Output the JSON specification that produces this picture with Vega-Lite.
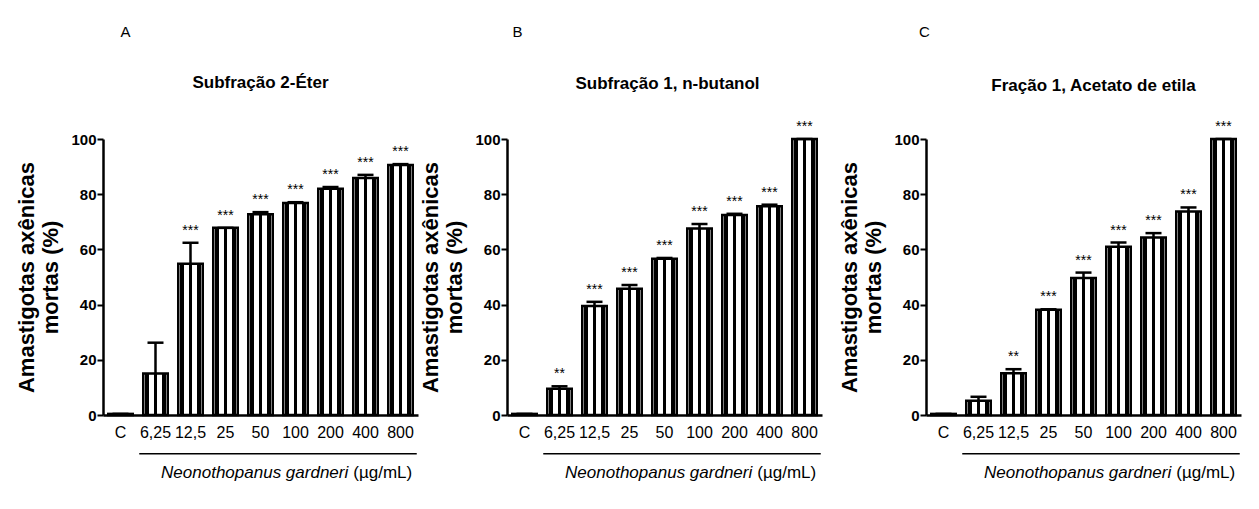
{
  "$schema": "https://vega.github.io/schema/vega-lite/v6.json",
  "background": "white",
  "padding": {"left": 15, "top": 24, "right": 5, "bottom": 5},
  "config": {
    "font": "Liberation Sans",
    "view": {"stroke": null},
    "axis": {"grid": false, "domainColor": "black", "tickColor": "black", "labelColor": "black", "titleColor": "black"},
    "axisX": {"title": null, "labelAngle": 0, "ticks": false, "domainWidth": 2.5, "labelFont": "Liberation Sans", "labelFontSize": 16, "labelPadding": 9},
    "axisY": {"values": [0, 20, 40, 60, 80, 100], "titleFontSize": 22, "titleFontWeight": "bold", "titlePadding": 8,
              "domainWidth": 2.5, "tickWidth": 2, "tickSize": 6, "labelFont": "Liberation Sans", "labelFontSize": 15, "labelFontWeight": "bold", "labelPadding": 1}
  },
  "data": {"values": [
    {"panel": "A", "dose": "C", "mean": 0.4, "hi": 0.4, "sig": ""},
    {"panel": "A", "dose": "6,25", "mean": 15.0, "hi": 26.2, "sig": ""},
    {"panel": "A", "dose": "12,5", "mean": 54.8, "hi": 62.4, "sig": "***"},
    {"panel": "A", "dose": "25", "mean": 67.8, "hi": 67.8, "sig": "***"},
    {"panel": "A", "dose": "50", "mean": 72.7, "hi": 73.5, "sig": "***"},
    {"panel": "A", "dose": "100", "mean": 76.8, "hi": 77.1, "sig": "***"},
    {"panel": "A", "dose": "200", "mean": 82.0, "hi": 82.6, "sig": "***"},
    {"panel": "A", "dose": "400", "mean": 85.9, "hi": 87.0, "sig": "***"},
    {"panel": "A", "dose": "800", "mean": 90.6, "hi": 90.9, "sig": "***"},
    {"panel": "B", "dose": "C", "mean": 0.4, "hi": 0.4, "sig": ""},
    {"panel": "B", "dose": "6,25", "mean": 9.5, "hi": 10.4, "sig": "**"},
    {"panel": "B", "dose": "12,5", "mean": 39.5, "hi": 41.0, "sig": "***"},
    {"panel": "B", "dose": "25", "mean": 45.7, "hi": 47.1, "sig": "***"},
    {"panel": "B", "dose": "50", "mean": 56.6, "hi": 56.9, "sig": "***"},
    {"panel": "B", "dose": "100", "mean": 67.6, "hi": 69.2, "sig": "***"},
    {"panel": "B", "dose": "200", "mean": 72.5, "hi": 72.9, "sig": "***"},
    {"panel": "B", "dose": "400", "mean": 75.6, "hi": 76.2, "sig": "***"},
    {"panel": "B", "dose": "800", "mean": 100.0, "hi": 100.0, "sig": "***"},
    {"panel": "C", "dose": "C", "mean": 0.4, "hi": 0.4, "sig": ""},
    {"panel": "C", "dose": "6,25", "mean": 5.2, "hi": 6.6, "sig": ""},
    {"panel": "C", "dose": "12,5", "mean": 15.1, "hi": 16.6, "sig": "**"},
    {"panel": "C", "dose": "25", "mean": 38.1, "hi": 38.3, "sig": "***"},
    {"panel": "C", "dose": "50", "mean": 49.6, "hi": 51.6, "sig": "***"},
    {"panel": "C", "dose": "100", "mean": 61.0, "hi": 62.5, "sig": "***"},
    {"panel": "C", "dose": "200", "mean": 64.3, "hi": 65.9, "sig": "***"},
    {"panel": "C", "dose": "400", "mean": 73.7, "hi": 75.2, "sig": "***"},
    {"panel": "C", "dose": "800", "mean": 100.0, "hi": 100.0, "sig": "***"}
  ]},
  "bounds": "flush",
  "spacing": 89,
  "hconcat": [
    {
      "width": 315, "height": 276,
      "transform": [{"filter": "datum.panel == 'A'"}],
      "encoding": {
        "x": {"field": "dose", "type": "nominal", "sort": ["C", "6,25", "12,5", "25", "50", "100", "200", "400", "800"],
              "scale": {"paddingInner": 0.3, "paddingOuter": 0.15}}
      },
      "layer": [
        {"mark": {"type": "bar", "stroke": "black", "strokeWidth": 2.5,
                  "fill": {"gradient": "linear", "x1": 0, "y1": 0, "x2": 1, "y2": 0, "stops": [
                    {"offset": 0, "color": "white"}, {"offset": 0.06, "color": "white"}, {"offset": 0.06, "color": "black"}, {"offset": 0.22, "color": "black"}, {"offset": 0.22, "color": "white"},
                    {"offset": 0.42, "color": "white"}, {"offset": 0.42, "color": "black"}, {"offset": 0.58, "color": "black"}, {"offset": 0.58, "color": "white"},
                    {"offset": 0.78, "color": "white"}, {"offset": 0.78, "color": "black"}, {"offset": 0.94, "color": "black"}, {"offset": 0.94, "color": "white"}, {"offset": 1, "color": "white"}]}},
         "encoding": {"y": {"field": "mean", "type": "quantitative", "scale": {"domain": [0, 100], "nice": false},
                            "axis": {"title": ["Amastigotas axênicas", "mortas (%)"]}}}},
        {"mark": {"type": "rule", "strokeWidth": 2.5, "color": "black"},
         "encoding": {"y": {"field": "mean", "type": "quantitative"}, "y2": {"field": "hi"}}},
        {"mark": {"type": "tick", "thickness": 2.5, "size": 16, "color": "black", "opacity": 1},
         "encoding": {"y": {"field": "hi", "type": "quantitative"}}},
        {"mark": {"type": "text", "fontSize": 14, "baseline": "alphabetic", "dy": -8, "color": "black"},
         "encoding": {"y": {"field": "hi", "type": "quantitative"}, "text": {"field": "sig"}}},
        {"data": {"values": [{}]},
         "mark": {"type": "rule", "strokeWidth": 1.5, "color": "black", "xOffset": -4, "x2Offset": 4},
         "encoding": {"x": {"datum": "6,25", "bandPosition": 0}, "x2": {"datum": "800", "bandPosition": 1}, "y": {"datum": -14}}},
        {"data": {"values": [{}]},
         "mark": {"type": "text", "fontSize": 17, "fontStyle": "italic", "align": "right", "baseline": "alphabetic", "dx": -5, "color": "black"},
         "encoding": {"x": {"datum": "400", "bandPosition": 0}, "y": {"datum": -23}, "text": {"value": "Neonothopanus gardneri"}}},
        {"data": {"values": [{}]},
         "mark": {"type": "text", "fontSize": 17, "align": "left", "baseline": "alphabetic", "color": "black"},
         "encoding": {"x": {"datum": "400", "bandPosition": 0}, "y": {"datum": -23}, "text": {"value": "(µg/mL)"}}},
        {"data": {"values": [{}]},
         "mark": {"type": "text", "fontSize": 17, "fontWeight": "bold", "align": "center", "baseline": "alphabetic", "color": "black"},
         "encoding": {"x": {"datum": "50"}, "y": {"datum": 118.5}, "text": {"value": "Subfração 2-Éter"}}},
        {"data": {"values": [{}]},
         "mark": {"type": "text", "fontSize": 15, "align": "center", "baseline": "alphabetic", "dx": 5, "color": "black"},
         "encoding": {"x": {"datum": "C"}, "y": {"datum": 137}, "text": {"value": "A"}}}
      ]
    },
    {
      "bounds": "flush",
      "spacing": 104,
      "hconcat": [
        {
          "width": 315, "height": 276,
          "transform": [{"filter": "datum.panel == 'B'"}],
          "encoding": {
            "x": {"field": "dose", "type": "nominal", "sort": ["C", "6,25", "12,5", "25", "50", "100", "200", "400", "800"],
                  "scale": {"paddingInner": 0.3, "paddingOuter": 0.15}}
          },
          "layer": [
            {"mark": {"type": "bar", "stroke": "black", "strokeWidth": 2.5,
                      "fill": {"gradient": "linear", "x1": 0, "y1": 0, "x2": 1, "y2": 0, "stops": [
                        {"offset": 0, "color": "white"}, {"offset": 0.06, "color": "white"}, {"offset": 0.06, "color": "black"}, {"offset": 0.22, "color": "black"}, {"offset": 0.22, "color": "white"},
                        {"offset": 0.42, "color": "white"}, {"offset": 0.42, "color": "black"}, {"offset": 0.58, "color": "black"}, {"offset": 0.58, "color": "white"},
                        {"offset": 0.78, "color": "white"}, {"offset": 0.78, "color": "black"}, {"offset": 0.94, "color": "black"}, {"offset": 0.94, "color": "white"}, {"offset": 1, "color": "white"}]}},
             "encoding": {"y": {"field": "mean", "type": "quantitative", "scale": {"domain": [0, 100], "nice": false},
                                "axis": {"title": ["Amastigotas axênicas", "mortas (%)"]}}}},
            {"mark": {"type": "rule", "strokeWidth": 2.5, "color": "black"},
             "encoding": {"y": {"field": "mean", "type": "quantitative"}, "y2": {"field": "hi"}}},
            {"mark": {"type": "tick", "thickness": 2.5, "size": 16, "color": "black", "opacity": 1},
             "encoding": {"y": {"field": "hi", "type": "quantitative"}}},
            {"mark": {"type": "text", "fontSize": 14, "baseline": "alphabetic", "dy": -8, "color": "black"},
             "encoding": {"y": {"field": "hi", "type": "quantitative"}, "text": {"field": "sig"}}},
            {"data": {"values": [{}]},
             "mark": {"type": "rule", "strokeWidth": 1.5, "color": "black", "xOffset": -4, "x2Offset": 4},
             "encoding": {"x": {"datum": "6,25", "bandPosition": 0}, "x2": {"datum": "800", "bandPosition": 1}, "y": {"datum": -14}}},
            {"data": {"values": [{}]},
             "mark": {"type": "text", "fontSize": 17, "fontStyle": "italic", "align": "right", "baseline": "alphabetic", "dx": -5, "color": "black"},
             "encoding": {"x": {"datum": "400", "bandPosition": 0}, "y": {"datum": -23}, "text": {"value": "Neonothopanus gardneri"}}},
            {"data": {"values": [{}]},
             "mark": {"type": "text", "fontSize": 17, "align": "left", "baseline": "alphabetic", "color": "black"},
             "encoding": {"x": {"datum": "400", "bandPosition": 0}, "y": {"datum": -23}, "text": {"value": "(µg/mL)"}}},
            {"data": {"values": [{}]},
             "mark": {"type": "text", "fontSize": 17, "fontWeight": "bold", "align": "center", "baseline": "alphabetic", "dx": 3, "color": "black"},
             "encoding": {"x": {"datum": "50"}, "y": {"datum": 118}, "text": {"value": "Subfração 1, n-butanol"}}},
            {"data": {"values": [{}]},
             "mark": {"type": "text", "fontSize": 15, "align": "center", "baseline": "alphabetic", "dx": -7, "color": "black"},
             "encoding": {"x": {"datum": "C"}, "y": {"datum": 137}, "text": {"value": "B"}}}
          ]
        },
        {
          "width": 315, "height": 276,
          "transform": [{"filter": "datum.panel == 'C'"}],
          "encoding": {
            "x": {"field": "dose", "type": "nominal", "sort": ["C", "6,25", "12,5", "25", "50", "100", "200", "400", "800"],
                  "scale": {"paddingInner": 0.3, "paddingOuter": 0.15}}
          },
          "layer": [
            {"mark": {"type": "bar", "stroke": "black", "strokeWidth": 2.5,
                      "fill": {"gradient": "linear", "x1": 0, "y1": 0, "x2": 1, "y2": 0, "stops": [
                        {"offset": 0, "color": "white"}, {"offset": 0.06, "color": "white"}, {"offset": 0.06, "color": "black"}, {"offset": 0.22, "color": "black"}, {"offset": 0.22, "color": "white"},
                        {"offset": 0.42, "color": "white"}, {"offset": 0.42, "color": "black"}, {"offset": 0.58, "color": "black"}, {"offset": 0.58, "color": "white"},
                        {"offset": 0.78, "color": "white"}, {"offset": 0.78, "color": "black"}, {"offset": 0.94, "color": "black"}, {"offset": 0.94, "color": "white"}, {"offset": 1, "color": "white"}]}},
             "encoding": {"y": {"field": "mean", "type": "quantitative", "scale": {"domain": [0, 100], "nice": false},
                                "axis": {"title": ["Amastigotas axênicas", "mortas (%)"]}}}},
            {"mark": {"type": "rule", "strokeWidth": 2.5, "color": "black"},
             "encoding": {"y": {"field": "mean", "type": "quantitative"}, "y2": {"field": "hi"}}},
            {"mark": {"type": "tick", "thickness": 2.5, "size": 16, "color": "black", "opacity": 1},
             "encoding": {"y": {"field": "hi", "type": "quantitative"}}},
            {"mark": {"type": "text", "fontSize": 14, "baseline": "alphabetic", "dy": -8, "color": "black"},
             "encoding": {"y": {"field": "hi", "type": "quantitative"}, "text": {"field": "sig"}}},
            {"data": {"values": [{}]},
             "mark": {"type": "rule", "strokeWidth": 1.5, "color": "black", "xOffset": -4, "x2Offset": 4},
             "encoding": {"x": {"datum": "6,25", "bandPosition": 0}, "x2": {"datum": "800", "bandPosition": 1}, "y": {"datum": -14}}},
            {"data": {"values": [{}]},
             "mark": {"type": "text", "fontSize": 17, "fontStyle": "italic", "align": "right", "baseline": "alphabetic", "dx": -5, "color": "black"},
             "encoding": {"x": {"datum": "400", "bandPosition": 0}, "y": {"datum": -23}, "text": {"value": "Neonothopanus gardneri"}}},
            {"data": {"values": [{}]},
             "mark": {"type": "text", "fontSize": 17, "align": "left", "baseline": "alphabetic", "color": "black"},
             "encoding": {"x": {"datum": "400", "bandPosition": 0}, "y": {"datum": -23}, "text": {"value": "(µg/mL)"}}},
            {"data": {"values": [{}]},
             "mark": {"type": "text", "fontSize": 17, "fontWeight": "bold", "align": "center", "baseline": "alphabetic", "dx": 10, "color": "black"},
             "encoding": {"x": {"datum": "50"}, "y": {"datum": 117.5}, "text": {"value": "Fração 1, Acetato de etila"}}},
            {"data": {"values": [{}]},
             "mark": {"type": "text", "fontSize": 15, "align": "center", "baseline": "alphabetic", "dx": -19, "color": "black"},
             "encoding": {"x": {"datum": "C"}, "y": {"datum": 137}, "text": {"value": "C"}}}
          ]
        }
      ]
    }
  ]
}
